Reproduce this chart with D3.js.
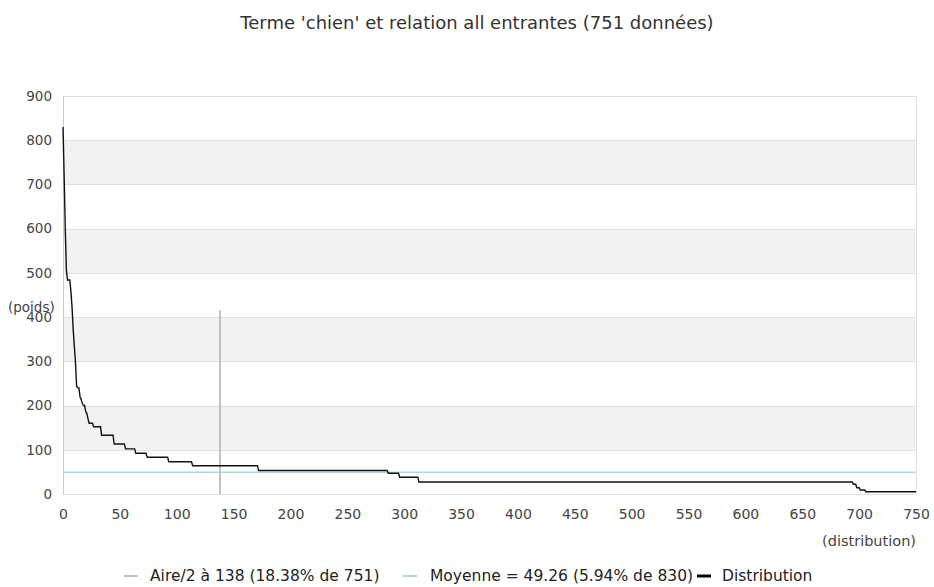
<!DOCTYPE html>
<html>
<head>
<meta charset="utf-8">
<script src="https://cdn.jsdelivr.net/npm/d3@7"></script>
<style>
  html, body { margin: 0; padding: 0; background: #fff; }
  svg { display: block; font-family: "DejaVu Sans", sans-serif; }
</style>
</head>
<body>
<svg id="chart" width="934" height="587"></svg>
<script>
// ---- data ----
const title = "Terme 'chien' et relation all entrantes (751 données)";
// distribution as runs of equal weight, in rank order
const runValues = [830, 720, 600, 505, 484, 457, 420, 370, 333, 296, 243, 240, 220, 213, 205, 200,
  186, 182, 170, 160, 152, 133, 113, 102, 92, 83, 73, 64, 53, 47, 38, 27, 22, 14, 9, 5];
const runCounts = [1, 1, 1, 1, 3, 1, 1, 1, 1, 1, 1, 2, 1, 1, 1, 2,
  1, 1, 1, 4, 7, 11, 10, 9, 10, 19, 21, 58, 114, 10, 17, 382, 3, 3, 5, 45];
const halfAreaRank = 138;
const halfAreaHeight = 415;
const meanValue = 49.26;
const xTicks = [0, 50, 100, 150, 200, 250, 300, 350, 400, 450, 500, 550, 600, 650, 700, 750];
const yTicks = [0, 100, 200, 300, 400, 500, 600, 700, 800, 900];
const legendLabels = ["Aire/2 à 138 (18.38% de 751)", "Moyenne = 49.26 (5.94% de 830)", "Distribution"];

// expand runs into one point per rank
const points = [];
runValues.forEach((v, i) => { for (let k = 0; k < runCounts[i]; k++) points.push({ r: points.length, v }); });

const svg = d3.select("#chart");
const m = { left: 63, right: 18, top: 96, bottom: 93 };
const W = 934, H = 587;
const x = d3.scaleLinear().domain([0, 750]).range([m.left, W - m.right]);
const y = d3.scaleLinear().domain([0, 900]).range([H - m.bottom, m.top]);

// title
svg.append("text").attr("x", 477).attr("y", 29).attr("text-anchor", "middle")
  .attr("font-size", 18).attr("fill", "#333").text(title);

// alternating bands
const bands = yTicks.slice(0, -1).filter((d, i) => i % 2 === 1);
svg.append("g").selectAll("rect").data(bands).join("rect")
  .attr("x", x(0)).attr("width", x(750) - x(0))
  .attr("y", d => y(d + 100)).attr("height", d => y(d) - y(d + 100))
  .attr("fill", "#f2f2f2");

// grid lines
svg.append("g").selectAll("line").data(yTicks).join("line")
  .attr("x1", x(0)).attr("x2", x(750))
  .attr("y1", d => Math.round(y(d)) + 0.5).attr("y2", d => Math.round(y(d)) + 0.5)
  .attr("stroke", "#e0e0e0").attr("stroke-width", 1);

// frame
svg.append("line").attr("x1", Math.round(x(750)) + 0.5).attr("x2", Math.round(x(750)) + 0.5)
  .attr("y1", y(900)).attr("y2", y(0)).attr("stroke", "#e0e0e0");
svg.append("line").attr("x1", Math.round(x(0)) + 0.5).attr("x2", Math.round(x(0)) + 0.5)
  .attr("y1", y(900)).attr("y2", y(0) + 0.5).attr("stroke", "#cccccc");

// y axis labels
const yAxis = d3.axisLeft(y).tickValues(yTicks).tickSize(0).tickPadding(11);
const gy = svg.append("g").attr("transform", `translate(${x(0)},0)`).call(yAxis);
gy.select(".domain").remove();
gy.selectAll("text").attr("font-size", 13.5).attr("fill", "#444").attr("font-family", "DejaVu Sans");

// x axis labels
const xAxis = d3.axisBottom(x).tickValues(xTicks).tickSize(0).tickPadding(15);
const gx = svg.append("g").attr("transform", `translate(0,${y(0)})`).call(xAxis);
gx.select(".domain").remove();
gx.selectAll("text").attr("font-size", 14).attr("fill", "#444").attr("font-family", "DejaVu Sans");

// axis titles
svg.append("text").attr("x", 8).attr("y", 312).attr("font-size", 13.5).attr("fill", "#444").text("(poids)");
svg.append("text").attr("x", x(750)).attr("y", 546).attr("text-anchor", "end")
  .attr("font-size", 14.5).attr("fill", "#444").text("(distribution)");

// mean line
svg.append("line").attr("x1", x(0)).attr("x2", x(750))
  .attr("y1", y(meanValue)).attr("y2", y(meanValue))
  .attr("stroke", "#add8e6").attr("stroke-width", 1.5);

// half-area line
svg.append("line").attr("x1", x(halfAreaRank)).attr("x2", x(halfAreaRank))
  .attr("y1", y(0)).attr("y2", y(halfAreaHeight))
  .attr("stroke", "#c0c0c0").attr("stroke-width", 2);

// distribution
const line = d3.line().x(d => x(d.r)).y(d => y(d.v));
svg.append("path").datum(points).attr("d", line)
  .attr("fill", "none").attr("stroke", "#111").attr("stroke-width", 1.4);

// legend
const legendItems = [
  { label: legendLabels[0], color: "#c0c0c0", w: 2, x: 124, tx: 150 },
  { label: legendLabels[1], color: "#add8e6", w: 2, x: 403, tx: 430 },
  { label: legendLabels[2], color: "#000", w: 3, x: 697, tx: 722 }
];
const lg = svg.append("g");
legendItems.forEach(it => {
  lg.append("line").attr("x1", it.x).attr("x2", it.x + 14).attr("y1", 576).attr("y2", 576)
    .attr("stroke", it.color).attr("stroke-width", it.w);
  lg.append("text").attr("x", it.tx).attr("y", 581).attr("font-size", 15.5)
    .attr("fill", "#222").text(it.label);
});
</script>
</body>
</html>
